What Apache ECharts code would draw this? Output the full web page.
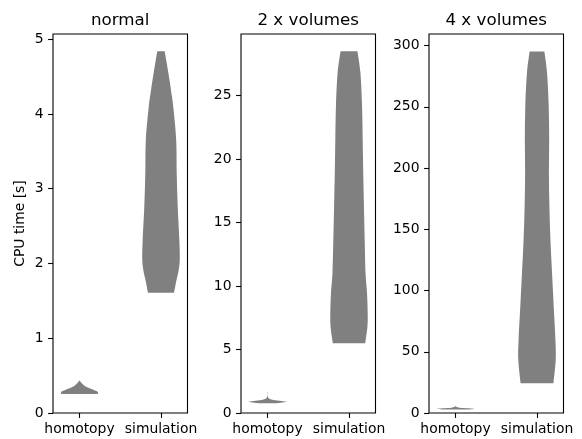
<!DOCTYPE html>
<html>
<head>
<meta charset="utf-8">
<script src="https://cdn.jsdelivr.net/npm/echarts@6/dist/echarts.min.js"></script>
<style>html,body{margin:0;padding:0;background:#fff}#c{width:582px;height:439px}</style>
</head>
<body>
<div id="c"></div>
<script>
// ---- data ----
const panelTitles = ['normal', '2 x volumes', '4 x volumes'];
const categories = ['homotopy', 'simulation'];
const positions = [1, 2];
const yAxisMax = [5.07, 29.85, 309.5];
const yTickValues = [
  [0, 1, 2, 3, 4, 5],
  [0, 5, 10, 15, 20, 25],
  [0, 50, 100, 150, 200, 250, 300]
];
const yAxisName = 'CPU time [s]';

// violin profiles: values (CPU time) and full width (x-axis units) at that value
const normalHomotopyVals   = [0.254, 0.27, 0.285, 0.30, 0.317, 0.335, 0.352, 0.375, 0.397, 0.415, 0.43];
const normalHomotopyWidths = [0.443, 0.456, 0.443, 0.38, 0.316, 0.234, 0.164, 0.10, 0.058, 0.031, 0.01];
const normalSimulationVals   = [1.61, 1.78, 1.9, 2.05, 2.32, 2.76, 3.21, 3.65, 4.10, 4.30, 4.55, 4.70, 4.84];
const normalSimulationWidths = [0.32, 0.38, 0.43, 0.46, 0.45, 0.41, 0.385, 0.373, 0.30, 0.25, 0.18, 0.135, 0.09];

const double_HomotopyVals   = [0.76, 0.83, 0.89, 0.95, 1.03, 1.10, 1.20, 1.35, 1.50, 1.65];
const double_HomotopyWidths = [0.18, 0.37, 0.468, 0.34, 0.15, 0.06, 0.02, 0.004, 0.002, 0.006];
const double_SimulationVals   = [5.5, 6.8, 7.8, 9.4, 11.0, 13.6, 16.3, 18.9, 21.5, 24.2, 26.8, 28.5];
const double_SimulationWidths = [0.398, 0.452, 0.459, 0.443, 0.406, 0.385, 0.366, 0.349, 0.336, 0.32, 0.28, 0.206];

const quadHomotopyVals   = [2.8, 3.3, 3.8, 4.3, 4.8, 5.5];
const quadHomotopyWidths = [0.25, 0.455, 0.31, 0.1, 0.037, 0.006];
const quadSimulationVals   = [24.3, 43.4, 59.7, 87.0, 114.3, 141.6, 168.9, 196.1, 223.4, 250.6, 278.0, 295.2];
const quadSimulationWidths = [0.403, 0.459, 0.452, 0.41, 0.369, 0.329, 0.304, 0.292, 0.299, 0.287, 0.246, 0.181];

const violins = [
  [[normalHomotopyVals, normalHomotopyWidths], [normalSimulationVals, normalSimulationWidths]],
  [[double_HomotopyVals, double_HomotopyWidths], [double_SimulationVals, double_SimulationWidths]],
  [[quadHomotopyVals, quadHomotopyWidths], [quadSimulationVals, quadSimulationWidths]]
];

// ---- layout ----
const FONT = 'DejaVu Sans';
const gridLefts = [53, 241, 429];
const gridW = 134.5, gridTop = 34, gridH = 379;

const chart = echarts.init(document.getElementById('c'), null, {renderer: 'canvas'});

// smooth side (Catmull-Rom -> cubic bezier) through pixel points
function sidePath(pts) {
  let d = '';
  for (let i = 0; i < pts.length - 1; i++) {
    const p0 = pts[Math.max(i - 1, 0)], p1 = pts[i], p2 = pts[i + 1], p3 = pts[Math.min(i + 2, pts.length - 1)];
    const c1 = [p1[0] + (p2[0] - p0[0]) / 6, p1[1] + (p2[1] - p0[1]) / 6];
    const c2 = [p2[0] - (p3[0] - p1[0]) / 6, p2[1] - (p3[1] - p1[1]) / 6];
    d += ' C' + c1[0] + ' ' + c1[1] + ' ' + c2[0] + ' ' + c2[1] + ' ' + p2[0] + ' ' + p2[1];
  }
  return d;
}

const grids = [], xAxes = [], yAxes = [], series = [], titles = [];
for (let p = 0; p < 3; p++) {
  grids.push({left: gridLefts[p], top: gridTop, width: gridW, height: gridH,
    show: true, borderColor: '#000', borderWidth: 1.1, backgroundColor: 'transparent', containLabel: false});
  titles.push({text: panelTitles[p], left: gridLefts[p] + gridW / 2, top: 12.5, textAlign: 'center', padding: 0,
    textStyle: {fontFamily: FONT, fontSize: 16.7, fontWeight: 'normal', color: '#000'}});
  xAxes.push({type: 'value', gridIndex: p, min: 0.675, max: 2.325,
    axisLine: {show: false}, splitLine: {show: false},
    axisTick: {show: true, length: 4.9, customValues: positions, lineStyle: {color: '#000', width: 1.1}},
    axisLabel: {customValues: positions, margin: 9, color: '#000', fontFamily: FONT, fontSize: 13.9,
      formatter: v => categories[positions.indexOf(Math.round(v))] || ''}
  });
  const ya = {type: 'value', gridIndex: p, min: 0, max: yAxisMax[p],
    axisLine: {show: false}, splitLine: {show: false},
    axisTick: {show: true, length: 4.9, customValues: yTickValues[p], lineStyle: {color: '#000', width: 1.1}},
    axisLabel: {customValues: yTickValues[p], margin: 9.5, color: '#000', fontFamily: FONT, fontSize: 13.9}
  };
  if (p === 0) {
    Object.assign(ya, {name: yAxisName, nameLocation: 'middle', nameRotate: 90, nameGap: 26,
      nameTextStyle: {fontFamily: FONT, fontSize: 13.9, color: '#000'}});
  }
  yAxes.push(ya);
  const profiles = violins[p];
  series.push({
    type: 'custom', xAxisIndex: p, yAxisIndex: p, silent: true, clip: false,
    data: positions.map((pos, i) => [pos, profiles[i][0][0]]),
    encode: {x: 0, y: 1},
    renderItem: function (params, api) {
      const i = params.dataIndex;
      const pos = api.value(0);
      const vals = profiles[i][0], ws = profiles[i][1];
      const left = [], right = [];
      for (let k = 0; k < vals.length; k++) left.push(api.coord([pos - ws[k] / 2, vals[k]]));
      for (let k = vals.length - 1; k >= 0; k--) right.push(api.coord([pos + ws[k] / 2, vals[k]]));
      let d = 'M' + left[0][0] + ' ' + left[0][1] + sidePath(left);
      d += ' L' + right[0][0] + ' ' + right[0][1] + sidePath(right) + ' Z';
      return {type: 'path', shape: {pathData: d},
        style: {fill: '#808080', stroke: null}};
    }
  });
}

chart.setOption({
  animation: false,
  backgroundColor: '#fff',
  title: titles,
  grid: grids,
  xAxis: xAxes,
  yAxis: yAxes,
  series: series
});
</script>
</body>
</html>
